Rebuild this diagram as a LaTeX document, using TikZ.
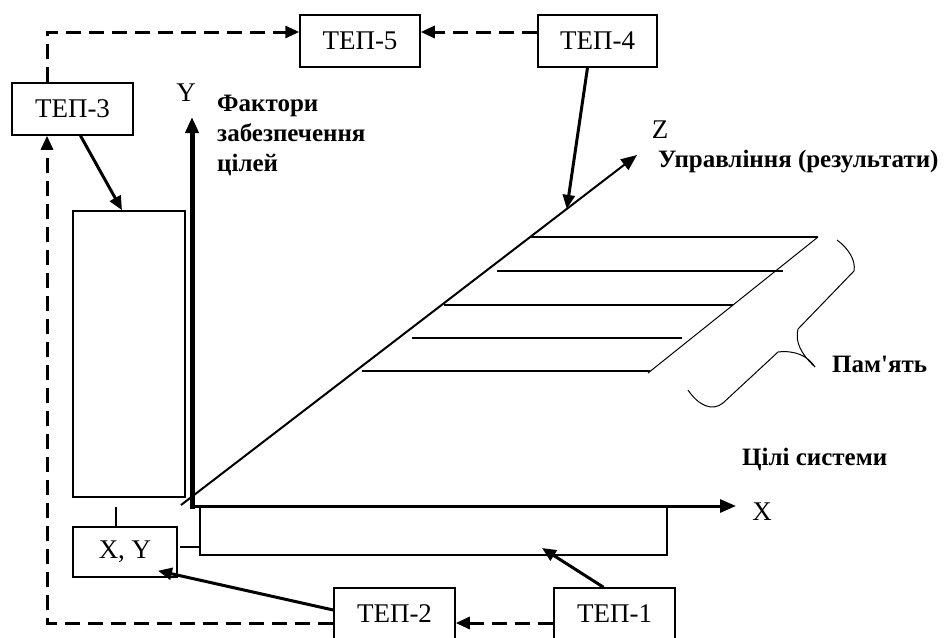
\documentclass[tikz,border=0pt]{standalone}
\usepackage{fontspec}
\setmainfont{Liberation Serif}[Ligatures=TeXOff]
\usetikzlibrary{arrows.meta,positioning}

\tikzset{
  tep/.style={draw, line width=1.5pt, minimum width=120pt, minimum height=52pt, inner sep=0pt, font=\fontsize{27}{32}\selectfont},
  lbl/.style={inner sep=0pt, font=\fontsize{27}{32}\selectfont},
  note/.style={inner sep=0pt, font=\bfseries\fontsize{25}{30}\selectfont, align=left},
  thin line/.style={line width=1.5pt},
  axis/.style={line width=3pt, -{Triangle[length=16pt,width=13pt]}},
  link/.style={line width=3pt, -{Triangle[length=14pt,width=12pt]}},
  dlink/.style={line width=3pt, dash pattern=on 15pt off 8pt, -{Triangle[length=14pt,width=12pt]}},
}

\begin{document}
\begin{tikzpicture}[x=1pt, y=-1pt]
\useasboundingbox (0,0) rectangle (952,637);

% blocks
\node[tep] (tep5) at (360,41) {ТЕП-5};
\node[tep, minimum width=119pt] (tep4) at (597.5,41) {ТЕП-4};
\node[tep, minimum width=121pt] (tep3) at (72.5,109) {ТЕП-3};
\node[tep, minimum width=121pt] (tep2) at (394.5,614) {ТЕП-2};
\node[tep, minimum width=121pt] (tep1) at (614.5,614) {ТЕП-1};
\node[tep, minimum width=104pt, minimum height=50pt] (xy) at (125,552) {X, Y};
\node[draw, thin line, minimum width=112pt, minimum height=286pt] (fzone) at (129,354) {};
\draw[thin line] (200,507) |- (667,555) -- (667,507);

% axes
\coordinate (o) at (192,506);
\coordinate (ytip) at (192,117);
\coordinate (xtip) at (736,506);
\coordinate (zo) at (181,505);
\coordinate (ztip) at (637,155);
\draw[axis, line width=5pt] (192,509) -- (ytip);
\draw[axis] (189.5,506) -- (xtip);
\draw[axis, line width=2pt] (zo) -- (ztip);
\path (zo) -- (ztip) coordinate[pos=0.846] (zmark);

\node[lbl] (ylab) at (186,93) {Y};
\node[lbl] (xlab) at (762,512) {X};
\node[lbl] (zlab) at (660,130) {Z};
\node[note, anchor=north west] (fact) at (217,95) {Фактори\\забезпечення\\цілей};
\node[note, anchor=base west] (ctrl) at (658,167) {Управління (результати)};
\node[note, anchor=base west] (goal) at (742,465) {Цілі системи};
\node[note, anchor=base west] (mem) at (832,372) {Пам'ять};

% memory
\draw[line width=2pt] (530,237) -- (818,237);
\draw[line width=2pt] (497,271) -- (783,271);
\draw[line width=2pt] (444,305) -- (733,305);
\draw[line width=2pt] (412,338) -- (682,338);
\draw[line width=2pt] (362,371) -- (650,371);
\draw[line width=1pt] (818,237) -- (648,373);
\draw[line width=1pt] (837,240) .. controls (848,248) and (856,260) .. (854,271) -- (798,329)
  .. controls (795,341) and (800,353) .. (815,367)
  .. controls (808,356) and (795,350) .. (778,352) -- (723,403)
  .. controls (712,412) and (698,405) .. (688,390);

% links
\coordinate (gmark) at (542,548);
\draw[thin line] (116,507) -- (116,527);
\draw[thin line] (180,547) -- (200,547);
\draw[link] ([xshift=8pt]tep3.south) -- ([xshift=-7pt]fzone.north);
\draw[link] ([xshift=-10pt]tep4.south) -- (zmark);
\draw[link] ([xshift=-11pt]tep1.north) -- (gmark);
\draw[link] ([yshift=4pt]tep2.west) -- ([xshift=33pt,yshift=7pt]xy.south);

\draw[dlink] ([yshift=-9pt]tep1.west) -- ([yshift=-9pt]tep2.east);
\draw[dlink] ([yshift=-9pt]tep2.west) -| ([xshift=-25.5pt]tep3.south);
\draw[dlink] ([xshift=-25.5pt]tep3.north) |- ([yshift=9pt]tep5.west);
\draw[dlink] ([yshift=9pt]tep4.west) -- ([yshift=9pt]tep5.east);
\end{tikzpicture}
\end{document}
